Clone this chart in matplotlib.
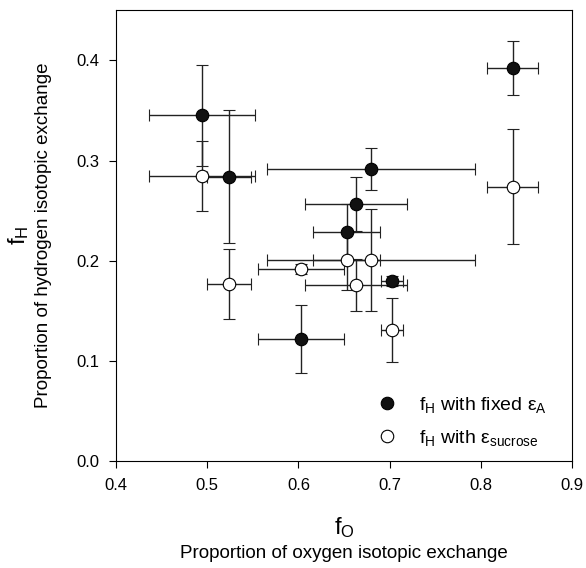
import matplotlib
matplotlib.use("Agg")
import matplotlib.pyplot as plt
from matplotlib.lines import Line2D
from matplotlib.ticker import FormatStrFormatter

plt.rcParams['font.family'] = ['Liberation Sans', 'DejaVu Sans']
plt.rcParams['mathtext.fontset'] = 'custom'
plt.rcParams['mathtext.rm'] = 'Liberation Sans'
plt.rcParams['mathtext.it'] = 'Liberation Sans'

# oxygen exchange fraction (x) and its error
f_o = [0.835, 0.494, 0.524, 0.680, 0.663, 0.653, 0.703, 0.603]
f_o_err = [0.028, 0.058, 0.024, 0.114, 0.056, 0.037, 0.012, 0.047]

# hydrogen exchange fraction with fixed epsilon_A
f_h_fixed = [0.392, 0.345, 0.284, 0.292, 0.257, 0.229, 0.180, 0.122]
f_h_fixed_err = [0.027, 0.050, 0.066, 0.021, 0.027, 0.028, 0.005, 0.034]

# hydrogen exchange fraction with epsilon_sucrose
f_h_sucrose = [0.274, 0.285, 0.177, 0.201, 0.176, 0.201, 0.131, 0.192]
f_h_sucrose_err = [0.057, 0.035, 0.035, 0.051, 0.026, 0.030, 0.032, 0.005]

labels = [r'$\mathregular{f_H}$ with fixed $\mathregular{\varepsilon_A}$',
          r'$\mathregular{f_H}$ with $\mathregular{\varepsilon_{sucrose}}$']

fig = plt.figure(figsize=(5.86, 5.68), dpi=100)
ax = fig.add_axes([0.198, 0.188, 0.778, 0.794])

ebkw = dict(fmt='o', ms=9, ecolor='#222222', elinewidth=1, capsize=4.5,
            capthick=1, mec='black', mew=0.8)
ax.errorbar(f_o, f_h_fixed, xerr=f_o_err, yerr=f_h_fixed_err, mfc='#111111', **ebkw)
ax.errorbar(f_o, f_h_sucrose, xerr=f_o_err, yerr=f_h_sucrose_err, mfc='white', **ebkw)

ax.set_xlim(0.4, 0.9)
ax.set_ylim(0.0, 0.45)
ax.set_xticks([0.4, 0.5, 0.6, 0.7, 0.8, 0.9])
ax.set_yticks([0.0, 0.1, 0.2, 0.3, 0.4])
ax.xaxis.set_major_formatter(FormatStrFormatter('%.1f'))
ax.yaxis.set_major_formatter(FormatStrFormatter('%.1f'))
ax.tick_params(direction='out', length=5, labelsize=12, pad=7)

cx = 0.5 * (0.198 + 0.976)
cy = 0.188 + 0.794 / 2
fig.text(cx, 0.072, r'$\mathregular{f_O}$', fontsize=17, ha='center', va='center')
fig.text(cx, 0.026, 'Proportion of oxygen isotopic exchange', fontsize=13.5, ha='center', va='center')
fig.text(0.032, cy, r'$\mathregular{f_H}$', fontsize=17, rotation=90, ha='center', va='center')
fig.text(0.074, cy, 'Proportion of hydrogen isotopic exchange', fontsize=13.5, rotation=90, ha='center', va='center')

handles = [Line2D([], [], ls='none', marker='o', ms=9, mfc='#111111', mec='black', mew=0.8),
           Line2D([], [], ls='none', marker='o', ms=9, mfc='white', mec='black', mew=0.8)]
ax.legend(handles, labels, loc='lower right', frameon=False, fontsize=14,
          handletextpad=0.9, handlelength=1.5, borderaxespad=0.3,
          labelspacing=0.65, bbox_to_anchor=(0.975, 0.0))

fig.savefig('out.png', dpi=100)
